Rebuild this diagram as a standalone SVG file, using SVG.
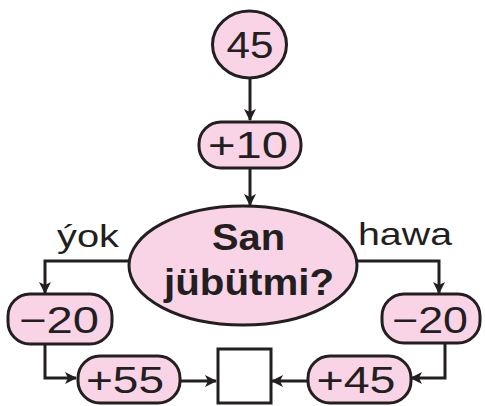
<svg xmlns="http://www.w3.org/2000/svg" width="485" height="406" viewBox="0 0 485 406">
<defs>
<style>
.n{fill:#f9d4e6;stroke:#231f20;stroke-width:3}
.b{fill:#fff;stroke:#231f20;stroke-width:3}
.t{font-family:"Liberation Sans",Arial,sans-serif;font-size:37px;fill:#231f20;text-anchor:middle}
.q{font-family:"Liberation Sans",Arial,sans-serif;font-size:36px;font-weight:bold;fill:#231f20;text-anchor:middle}
.l{font-family:"Liberation Sans",Arial,sans-serif;font-size:32px;fill:#231f20}
.c{fill:none;stroke:#231f20;stroke-width:3}
</style>
<marker id="a" viewBox="0 0 12 12" refX="11" refY="6" markerWidth="12" markerHeight="12" markerUnits="userSpaceOnUse" orient="auto">
<path d="M0,0 L12,6 L0,12 L3,6 Z" fill="#231f20"/>
</marker>
</defs>
<g id="connectors">
<path class="c" d="M250,78 V120" marker-end="url(#a)"/>
<path class="c" d="M250,168 V205" marker-end="url(#a)"/>
<path class="c" d="M129,261 H45 V293" marker-end="url(#a)"/>
<path class="c" d="M357,261 H439 V293" marker-end="url(#a)"/>
<path class="c" d="M45,344 V378 H76" marker-end="url(#a)"/>
<path class="c" d="M445,343 V378 H411" marker-end="url(#a)"/>
<path class="c" d="M180,381 H216" marker-end="url(#a)"/>
<path class="c" d="M307,381 H272" marker-end="url(#a)"/>
</g>
<g id="n45">
<ellipse class="n" cx="249.5" cy="44.5" rx="37" ry="33.5"/>
<text class="t" x="250" y="57.5" textLength="47" lengthAdjust="spacingAndGlyphs">45</text>
</g>
<g id="plus10">
<rect class="n" x="199" y="122" width="102" height="46" rx="22"/>
<text class="t" x="248" y="157.5" textLength="80" lengthAdjust="spacingAndGlyphs">+10</text>
</g>
<g id="question">
<ellipse class="n" cx="243" cy="265.5" rx="114" ry="59.5"/>
<text class="q" x="248.5" y="250" textLength="73" lengthAdjust="spacingAndGlyphs">San</text>
<text class="q" x="249" y="295" textLength="170" lengthAdjust="spacingAndGlyphs">jübütmi?</text>
</g>
<text class="l" x="57" y="247" textLength="62" lengthAdjust="spacingAndGlyphs">ýok</text>
<text class="l" x="358" y="245" textLength="94" lengthAdjust="spacingAndGlyphs">hawa</text>
<g id="minus20l">
<rect class="n" x="8" y="294" width="104" height="50" rx="22"/>
<text class="t" x="59" y="332.5" textLength="80" lengthAdjust="spacingAndGlyphs">−20</text>
</g>
<g id="minus20r">
<rect class="n" x="382" y="294" width="98" height="49" rx="22"/>
<text class="t" x="430" y="332.5" textLength="76" lengthAdjust="spacingAndGlyphs">−20</text>
</g>
<g id="plus55">
<rect class="n" x="78" y="356" width="102" height="47" rx="22"/>
<text class="t" x="125" y="393" textLength="78" lengthAdjust="spacingAndGlyphs">+55</text>
</g>
<g id="plus45">
<rect class="n" x="308" y="356" width="103" height="47" rx="22"/>
<text class="t" x="356" y="393" textLength="79" lengthAdjust="spacingAndGlyphs">+45</text>
</g>
<g id="result">
<rect class="b" x="218" y="349" width="53" height="54"/>
</g>
</svg>
